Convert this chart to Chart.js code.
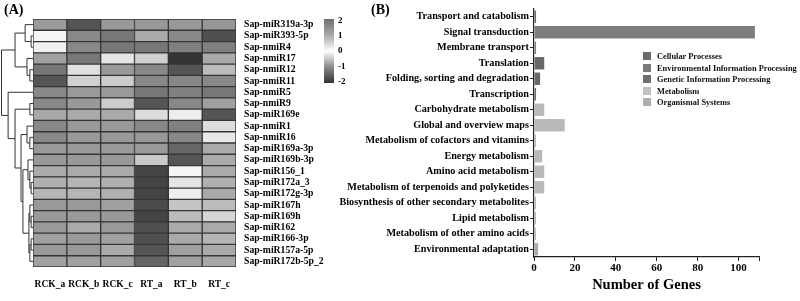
<!DOCTYPE html>
<html>
<head>
<meta charset="utf-8">
<script src="https://cdn.jsdelivr.net/npm/chart.js@4.4.0/dist/chart.umd.min.js"></script>
<style>
  body { margin: 0; background: #fff; }
  #wrap { position: relative; width: 800px; height: 301px; overflow: hidden; background: #fff; font-family: "Liberation Serif", "Times New Roman", serif; }
  canvas { position: absolute; top: 0; }
  .panel { position: absolute; font-weight: bold; font-size: 14px; color: #000; }
  #legend { position: absolute; left: 643px; top: 51px; font-weight: bold; font-size: 8.4px; color: #111; }
  #legend div { height: 11.6px; line-height: 11.6px; white-space: nowrap; }
  #legend span { display: inline-block; width: 8px; height: 8px; margin-right: 6px; vertical-align: -1px; }
</style>
</head>
<body>
<div id="wrap">
  <canvas id="heat" width="400" height="301" style="left:0"></canvas>
  <canvas id="genes" width="470" height="301" style="left:330px"></canvas>
  <div class="panel" style="left:4px;top:2px">(A)</div>
  <div class="panel" style="left:371px;top:2px">(B)</div>
  <div id="legend"></div>
</div>
<script>
// ---- panel A: heatmap data ----
const rowLabels = ['Sap-miR319a-3p', 'Sap-miR393-5p', 'Sap-nmiR4', 'Sap-nmiR17', 'Sap-nmiR12', 'Sap-nmiR11',
  'Sap-nmiR5', 'Sap-nmiR9', 'Sap-miR169e', 'Sap-nmiR1', 'Sap-nmiR16', 'Sap-miR169a-3p', 'Sap-miR169b-3p',
  'Sap-miR156_1', 'Sap-miR172a_3', 'Sap-miR172g-3p', 'Sap-miR167h', 'Sap-miR169h', 'Sap-miR162',
  'Sap-miR166-3p', 'Sap-miR157a-5p', 'Sap-miR172b-5p_2'];
const colLabels = ['RCK_a', 'RCK_b', 'RCK_c', 'RT_a', 'RT_b', 'RT_c'];

// z-scores, one array per sample (rows in the order above)
const zRCKa = [1.25, 0.11, 0.17, 1.14, 1.88, -1.61, 1.57, 1.57, 1.0, 1.57, 1.57, 1.27, 1.27, 0.98, 0.91, 0.85, 1.27, 1.27, 1.27, 1.14, 1.27, 1.14];
const zRCKb = [-1.61, 1.57, 1.57, 1.88, 0.36, 0.54, 1.27, 1.27, 0.98, 1.27, 1.27, 1.27, 1.27, 0.98, 0.85, 0.85, 1.27, 1.27, 0.98, 1.27, 1.27, 1.14];
const zRCKc = [1.27, 1.88, 1.88, 0.3, 1.27, 0.59, 1.27, 0.59, 0.98, 1.27, 1.27, 1.27, 1.27, 0.98, 0.91, 0.91, 1.14, 1.27, 1.27, 1.14, 0.98, 1.14];
const zRTa  = [1.27, 0.98, 1.88, 0.54, 1.57, 1.57, 1.88, -1.61, 0.39, 1.57, 1.27, 1.27, 0.63, -1.8, -1.8, -1.8, -1.74, -1.8, -1.67, -1.67, -1.61, -1.41];
const zRTb  = [1.27, 1.57, 1.71, -2.0, -1.61, 1.57, 1.71, 1.57, 0.2, 1.71, 1.57, -1.41, -1.61, 0.11, 0.3, 0.2, 0.67, 0.78, 0.98, 0.98, 1.14, 1.14];
const zRTc  = [1.3, -1.67, 1.71, 0.98, 0.78, 1.57, 1.88, 1.14, -1.61, 0.39, 0.26, 0.98, 0.98, 0.98, 0.91, 0.98, 0.78, 0.48, 0.98, 0.85, 0.98, 1.0];
const zCols = [zRCKa, zRCKb, zRCKc, zRTa, zRTb, zRTc];

const colorbarTicks = [2, 1, 0, -1, -2];

// row clustering: [node, childA, childB, linkage height]
const linkage = [
  ['n1', 1, 2, 0.6], ['n2', 0, 'n1', 2.5], ['n3', 4, 5, 1.0], ['n4', 3, 'n3', 1.9], ['A', 'n2', 'n4', 5.7],
  ['n6', 7, 8, 1.0], ['n8', 10, 11, 1.0], ['E', 9, 'n8', 1.9],
  ['a', 14, 15, 0.6], ['b', 13, 'a', 1.0], ['c', 12, 'b', 1.6],
  ['d', 17, 18, 0.6], ['e', 16, 'd', 1.0], ['f', 19, 20, 0.6], ['g', 'f', 21, 1.0], ['h', 'e', 'g', 1.3],
  ['F', 'c', 'h', 3.2], ['D', 'E', 'F', 3.8], ['C', 'n6', 'D', 5.7], ['B', 6, 'C', 7.9], ['root', 'A', 'B', 10]
];

// ---- panel B: KEGG data ----
const pathways = ['Transport and catabolism', 'Signal transduction', 'Membrane transport', 'Translation',
  'Folding, sorting and degradation', 'Transcription', 'Carbohydrate metabolism', 'Global and overview maps',
  'Metabolism of cofactors and vitamins', 'Energy metabolism', 'Amino acid metabolism',
  'Metabolism of terpenoids and polyketides', 'Biosynthesis of other secondary metabolites',
  'Lipid metabolism', 'Metabolism of other amino acids', 'Environmental adaptation'];
const pathwayClass = ['Cellular Processes', 'Environmental Information Processing', 'Environmental Information Processing',
  'Genetic Information Processing', 'Genetic Information Processing', 'Genetic Information Processing',
  'Metabolism', 'Metabolism', 'Metabolism', 'Metabolism', 'Metabolism', 'Metabolism', 'Metabolism',
  'Metabolism', 'Metabolism', 'Organismal Systems'];
const geneCounts = [1, 108, 1, 5, 3, 1, 5, 15, 1, 4, 5, 5, 1, 1, 1, 2];
const classes = ['Cellular Processes', 'Environmental Information Processing', 'Genetic Information Processing', 'Metabolism', 'Organismal Systems'];
const xTicks = [0, 20, 40, 60, 80, 100];

const classBarColors = ['#6a6a6a', '#7e7e7e', '#686868', '#b9b9b9', '#ababab'];
const classKeyColors = ['#6b6b6b', '#7a7a7a', '#6e6e6e', '#c0c0c0', '#b0b0b0'];

const serif = '"Liberation Serif", "Times New Roman", serif';

function grayOf(z) {
  let g;
  if (z >= 1) g = 168 - (z - 1) * 56;
  else if (z >= 0) g = 255 - z * 87;
  else if (z >= -1) g = 255 + z * 117;
  else g = 138 + (z + 1) * 87;
  g = Math.round(Math.max(0, Math.min(255, g)));
  return `rgb(${g},${g},${g})`;
}

const dendroPlugin = {
  id: 'dendro',
  afterDraw(chart) {
    const ctx = chart.ctx, y = chart.scales.y, left = chart.chartArea.left;
    const pxPerUnit = (left - 1.5) / 10;
    const nodes = {};
    const pos = ref => typeof ref === 'number' ? { x: left, y: y.getPixelForValue(ref) } : nodes[ref];
    ctx.save();
    ctx.strokeStyle = '#333';
    ctx.lineWidth = 1;
    linkage.forEach(([name, a, b, h]) => {
      const pa = pos(a), pb = pos(b), x = left - h * pxPerUnit;
      ctx.beginPath();
      ctx.moveTo(pa.x, pa.y); ctx.lineTo(x, pa.y); ctx.lineTo(x, pb.y); ctx.lineTo(pb.x, pb.y);
      ctx.stroke();
      nodes[name] = { x, y: (pa.y + pb.y) / 2 };
    });
    ctx.restore();
  }
};

const colorbarPlugin = {
  id: 'colorbar',
  afterDraw(chart) {
    const ctx = chart.ctx, x0 = 324, w = 10, top = 19, bottom = 83;
    const grad = ctx.createLinearGradient(0, top, 0, bottom);
    colorbarTicks.forEach((t, i) => grad.addColorStop(i / (colorbarTicks.length - 1), grayOf(t)));
    ctx.save();
    ctx.fillStyle = grad;
    ctx.fillRect(x0, top, w, bottom - top);
    ctx.fillStyle = '#000';
    ctx.font = 'bold 9px ' + serif;
    ctx.textBaseline = 'middle';
    colorbarTicks.forEach((t, i) => {
      const yy = top + 1.5 + i * (bottom - top - 3) / (colorbarTicks.length - 1);
      ctx.fillText(String(t), x0 + 14, yy);
    });
    ctx.restore();
  }
};

new Chart(document.getElementById('heat'), {
  type: 'bar',
  data: {
    labels: rowLabels,
    datasets: colLabels.map((c, i) => ({
      label: c,
      data: rowLabels.map(() => 1),
      backgroundColor: zCols[i].map(grayOf),
      borderColor: '#363636',
      borderWidth: 1,
      borderSkipped: false,
      barPercentage: 1,
      categoryPercentage: 1
    }))
  },
  options: {
    indexAxis: 'y',
    responsive: false,
    animation: false,
    layout: { padding: { left: 33, top: 19, right: 0, bottom: 0 } },
    plugins: { legend: { display: false }, tooltip: { enabled: false } },
    scales: {
      x: {
        type: 'linear', stacked: true, min: 0, max: colLabels.length,
        grid: { display: false }, border: { display: false },
        afterBuildTicks: axis => { axis.ticks = colLabels.map((c, i) => ({ value: i + 0.5 })); },
        ticks: { callback: (v, i) => colLabels[i], font: { family: serif, weight: 'bold', size: 9.5 }, color: '#000', padding: 4, maxRotation: 0, autoSkip: false },
        afterFit: s => { s.height = 34; }
      },
      y: {
        position: 'right', stacked: true,
        grid: { display: false }, border: { display: false },
        ticks: { font: { family: serif, weight: 'bold', size: 9.7 }, color: '#000', padding: 0, autoSkip: false },
        afterFit: s => { s.width = 164; }
      }
    }
  },
  plugins: [dendroPlugin, colorbarPlugin]
});

new Chart(document.getElementById('genes'), {
  type: 'bar',
  data: {
    labels: pathways,
    datasets: classes.map((cls, k) => ({
      label: cls,
      data: geneCounts.map((v, i) => pathwayClass[i] === cls ? v : null),
      backgroundColor: classBarColors[k],
      barPercentage: 0.8,
      categoryPercentage: 1
    }))
  },
  options: {
    indexAxis: 'y',
    responsive: false,
    animation: false,
    layout: { padding: { left: 0, right: 41, top: 9, bottom: 0 } },
    plugins: { legend: { display: false }, tooltip: { enabled: false } },
    scales: {
      x: {
        stacked: true, min: 0, max: 110,
        afterBuildTicks: axis => { axis.ticks = xTicks.concat([110]).map(v => ({ value: v })); },
        ticks: { callback: v => xTicks.includes(v) ? v : '', font: { family: serif, weight: 'bold', size: 11 }, color: '#000', padding: 1, maxRotation: 0 },
        grid: { drawOnChartArea: false, tickLength: 4, color: '#222' },
        border: { color: '#222', width: 1.2 },
        title: { display: true, text: 'Number of Genes', font: { family: serif, weight: 'bold', size: 14.5 }, color: '#000', padding: { top: 0, bottom: 7 } },
        afterFit: s => { s.height = 44; }
      },
      y: {
        stacked: true,
        grid: { drawOnChartArea: false, offset: false, tickLength: 4, color: '#222' },
        border: { color: '#222', width: 1.2 },
        ticks: { font: { family: serif, weight: 'bold', size: 10.2 }, color: '#000', padding: 1, autoSkip: false },
        afterFit: s => { s.width = 204; }
      }
    }
  }
});

const legend = document.getElementById('legend');
classes.forEach((cls, k) => {
  const row = document.createElement('div');
  row.innerHTML = `<span style="background:${classKeyColors[k]}"></span>${cls}`;
  legend.appendChild(row);
});
</script>
</body>
</html>
